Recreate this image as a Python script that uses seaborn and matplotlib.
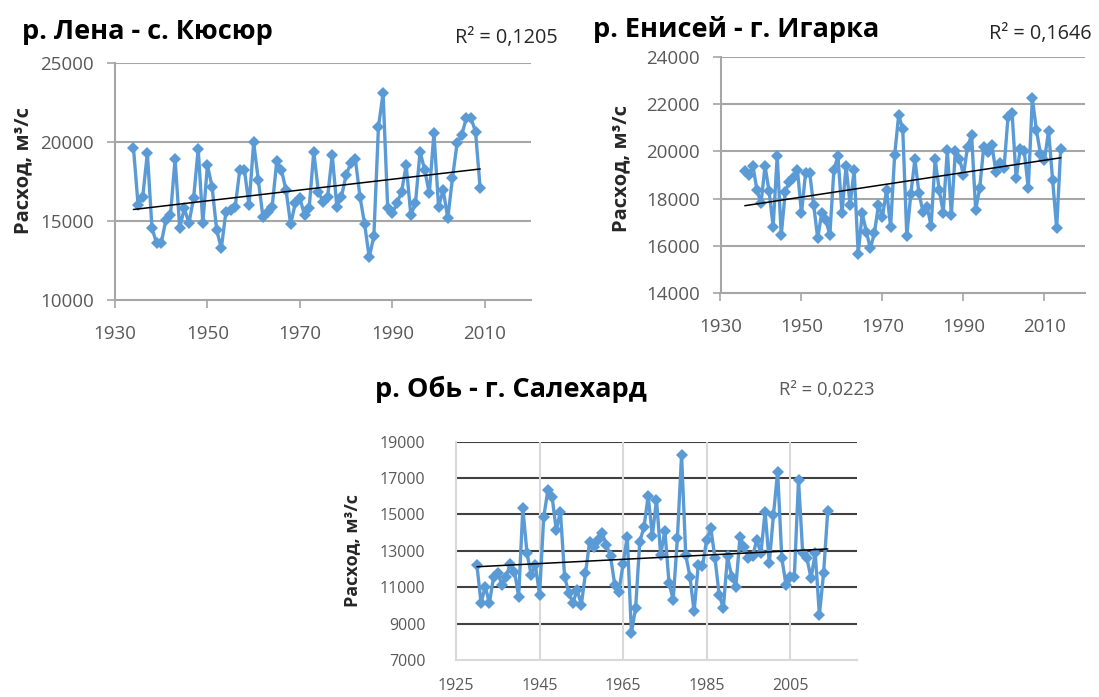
import numpy as np
import pandas as pd
import matplotlib
matplotlib.use("Agg")
import matplotlib.pyplot as plt
import seaborn as sns

# ---------------- data ----------------
lena_years = list(range(1934, 2010))
lena_flow = [
    19600, 16000, 16540, 19300, 14550, 13600, 13600, 15060, 15380, 18920,
    14550, 15800, 14860, 16440, 19560, 14860, 18540, 17170, 14430, 13270,
    15590, 15700, 15900, 18230, 18230, 16000, 19980, 17600, 15270, 15590,
    15900, 18800, 18230, 16960, 14790, 16120, 16440, 15380, 15800, 19390,
    16850, 16220, 16540, 19180, 15900, 16540, 17910, 18650, 18920, 16540,
    14810, 12700, 14030, 20970, 23080, 15800, 15490, 16120, 16860, 18540,
    15380, 16120, 19390, 18230, 16750, 20550, 15900, 16960, 15170, 17700,
    19910, 20440, 21500, 21530, 20650, 17070,
]

yenisei_years = list(range(1936, 2015))
yenisei_flow = [
    19185, 19000, 19385, 18365, 17800, 19385, 18300, 16810, 19810, 16455,
    18295, 18720, 18860, 19215,
    17375, 19075, 19100, 17730, 16315, 17400, 17090, 16455, 19215, 19810,
    17375, 19385, 17730, 19215, 15650, 17375, 16595, 15890, 16527, 17728,
    17232, 18366, 16808, 19852, 21550, 20943, 16412, 18200, 19669, 18225,
    17444, 17656, 16837, 19682, 18366, 17402, 20064, 17304, 20035, 19700,
    19002, 20204, 20701, 17520, 18435, 20205, 19990, 20275, 19145, 19500,
    19285, 21480, 21620, 18860, 20100, 20000, 18435, 22260, 20913, 19900,
    19640, 20884, 18800, 16740, 20094,
]

ob_years = list(range(1930, 2015))
ob_flow = [
    12230, 10128, 11040, 10128, 11590, 11775, 11135, 11590, 12285, 11863,
    10490, 15344, 12873, 11680, 12230, 10584, 14850, 16350, 15980, 14150,
    15160, 11590, 10677, 10128, 10860, 10035, 11775, 13510, 13235, 13600,
    13970, 13330, 12690, 11135, 10765, 12300, 13785, 8481, 9853, 13510,
    14300, 16019, 13823, 15800, 12780, 14115, 11226, 10310, 13697, 18270,
    12780, 11590, 9667, 12230, 12140, 13600, 14245, 12600, 10584, 9855,
    12690, 11590, 11040, 13785, 13235, 12600, 12690, 13600, 12873, 15160,
    12322, 14980, 17350, 12600, 11135, 11590, 11590, 16900, 12873, 12600,
    11500, 12873, 9480, 11775, 15200,
]

titles = ["р. Лена - с. Кюсюр", "р. Енисей - г. Игарка", "р. Обь - г. Салехард"]
r2_texts = ["R² = 0,1205", "R² = 0,1646", "R² = 0,0223"]
ylabel = "Расход, м³/с"

lena_yticks = [10000, 15000, 20000, 25000]
lena_xticks = [1930, 1950, 1970, 1990, 2010]
yen_yticks = [14000, 16000, 18000, 20000, 22000, 24000]
yen_xticks = [1930, 1950, 1970, 1990, 2010]
ob_yticks = [7000, 9000, 11000, 13000, 15000, 17000, 19000]
ob_xticks = [1925, 1945, 1965, 1985, 2005]

# ---------------- style ----------------
sns.set_theme(style="white")
plt.rcParams["font.family"] = ["Open Sans", "DejaVu Sans"]

W, H = 1099, 697
fig = plt.figure(figsize=(W / 100, H / 100), dpi=100)
fig.patch.set_facecolor("white")


def rect(l, t, r, b):
    return [l / W, 1 - b / H, (r - l) / W, (b - t) / H]


BLUE = "#5B9BD5"
GRID = "#A6A6A6"
TXT = "#595959"


def draw(ax, years, flow, xlim, ylim, xticks, yticks, fs, xpad, ob=False):
    df = pd.DataFrame({"year": years, "flow": flow})
    sns.lineplot(data=df, x="year", y="flow", ax=ax, color=BLUE, linewidth=2.4,
                 marker="D", markersize=6, markeredgewidth=0, markerfacecolor=BLUE)
    sns.regplot(data=df, x="year", y="flow", ax=ax, scatter=False, ci=None,
                truncate=True, color="black", line_kws=dict(linewidth=1.1))
    ax.set_xlim(*xlim)
    ax.set_ylim(*ylim)
    ax.set_xticks(xticks)
    ax.set_yticks(yticks)
    ax.set_xticklabels([str(v) for v in xticks])
    ax.set_yticklabels([str(v) for v in yticks])
    ax.set_xlabel("")
    ax.set_ylabel("")
    ax.set_facecolor("white")
    for s in ["top", "right"]:
        ax.spines[s].set_visible(False)
    ax.grid(False)
    if ob:
        for s in ["left", "bottom"]:
            ax.spines[s].set_color("#D9D9D9")
            ax.spines[s].set_linewidth(1.5)
        for y in yticks[1:]:
            ax.axhline(y, color="#404040", lw=1.5, zorder=0)
        for x in xticks[1:]:
            ax.axvline(x, color="#D9D9D9", lw=1.5, zorder=0)
        ax.tick_params(axis="both", length=0, colors=TXT, labelsize=fs)
        ax.tick_params(axis="y", pad=22)
        ax.tick_params(axis="x", pad=xpad)
    else:
        for s in ["left", "bottom"]:
            ax.spines[s].set_color(GRID)
            ax.spines[s].set_linewidth(1.5)
        for y in yticks[1:]:
            ax.axhline(y, color=GRID, lw=1.5, zorder=0)
        ax.tick_params(axis="both", direction="out", length=6, width=1.2,
                       color=GRID, labelcolor=TXT, labelsize=fs)
        ax.tick_params(axis="y", pad=9)
        ax.tick_params(axis="x", pad=xpad)
    ax.tick_params(left=True, bottom=True)


ax1 = fig.add_axes(rect(115, 63, 531, 300))
draw(ax1, lena_years, lena_flow, (1930, 2020), (10000, 25000), lena_xticks, lena_yticks, 13.5, 12)

ax2 = fig.add_axes(rect(720.5, 57.3, 1085, 292.7))
draw(ax2, yenisei_years, yenisei_flow, (1930, 2020), (14000, 24000), yen_xticks, yen_yticks, 13.5, 12)

ax3 = fig.add_axes(rect(456, 441.7, 857, 660))
draw(ax3, ob_years, ob_flow, (1925, 2021), (7000, 19000), ob_xticks, ob_yticks, 11.5, 13, ob=True)

# titles
def ftext(px, py, s, **kw):
    fig.text(px / W, 1 - py / H, s, **kw)

ftext(22, 39, titles[0], fontsize=19.5, fontweight="bold", color="black", va="baseline")
ftext(593, 37, titles[1], fontsize=19.5, fontweight="bold", color="black", va="baseline")
ftext(375, 397, titles[2], fontsize=19.5, fontweight="bold", color="black", va="baseline")

ftext(455, 43, r2_texts[0], fontsize=14.3, color="#262626", va="baseline")
ftext(989, 39, r2_texts[1], fontsize=14.3, color="#262626", va="baseline")
ftext(779, 395, r2_texts[2], fontsize=13.3, color=TXT, va="baseline")

ftext(23, 170, ylabel, fontsize=14.5, fontweight="bold", rotation=90, ha="center", va="center")
ftext(621, 168, ylabel, fontsize=14.5, fontweight="bold", rotation=90, ha="center", va="center")
ftext(352, 551, ylabel, fontsize=13, fontweight="bold", rotation=90, ha="center", va="center")

fig.savefig("out.png", dpi=100, facecolor="white")
